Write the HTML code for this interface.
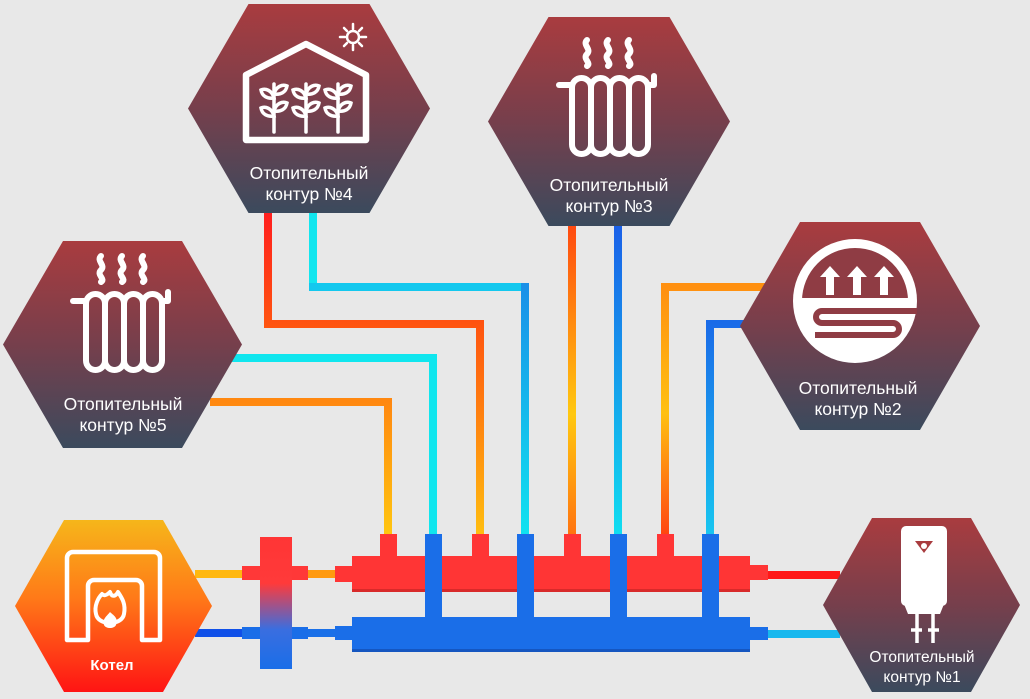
<!DOCTYPE html>
<html><head><meta charset="utf-8"><style>
html,body{margin:0;padding:0;background:#e8e8e8;}
svg{display:block;}
text{font-family:"Liberation Sans",sans-serif;fill:#fff;}
</style></head><body>
<svg width="1030" height="699" viewBox="0 0 1030 699" xmlns="http://www.w3.org/2000/svg">
<defs>
<linearGradient id="hx" x1="0" y1="0" x2="0" y2="1">
<stop offset="0" stop-color="#a93c3f"/><stop offset="0.5" stop-color="#763f4c"/><stop offset="1" stop-color="#3b4a5d"/></linearGradient>
<linearGradient id="kt" x1="0" y1="0" x2="0" y2="1">
<stop offset="0" stop-color="#f6b61a"/><stop offset="0.45" stop-color="#ff7a18"/><stop offset="1" stop-color="#ff1414"/></linearGradient>
<linearGradient id="sep" x1="0" y1="0" x2="0" y2="1">
<stop offset="0" stop-color="#ff3535"/><stop offset="0.35" stop-color="#ff3a3a"/><stop offset="0.7" stop-color="#3a6ee0"/><stop offset="1" stop-color="#1a6ee8"/></linearGradient>
<linearGradient id="g4r" gradientUnits="userSpaceOnUse" x1="0" y1="213" x2="0" y2="540">
<stop offset="0" stop-color="#ff1e1e"/><stop offset="0.35" stop-color="#ff5510"/><stop offset="1" stop-color="#ffc010"/></linearGradient>
<linearGradient id="g4c" gradientUnits="userSpaceOnUse" x1="0" y1="287" x2="0" y2="540">
<stop offset="0" stop-color="#1a90e8"/><stop offset="1" stop-color="#10e4f0"/></linearGradient>
<linearGradient id="g5o" gradientUnits="userSpaceOnUse" x1="0" y1="402" x2="0" y2="540">
<stop offset="0" stop-color="#ff8810"/><stop offset="1" stop-color="#ffc810"/></linearGradient>
<linearGradient id="g3o" gradientUnits="userSpaceOnUse" x1="0" y1="226" x2="0" y2="540">
<stop offset="0" stop-color="#ff4a10"/><stop offset="0.6" stop-color="#ffc810"/><stop offset="1" stop-color="#ff7010"/></linearGradient>
<linearGradient id="g3b" gradientUnits="userSpaceOnUse" x1="0" y1="226" x2="0" y2="540">
<stop offset="0" stop-color="#1a60e8"/><stop offset="1" stop-color="#10e0f0"/></linearGradient>
<linearGradient id="g2o" gradientUnits="userSpaceOnUse" x1="0" y1="287" x2="0" y2="540">
<stop offset="0" stop-color="#ff9010"/><stop offset="0.5" stop-color="#ffc010"/><stop offset="1" stop-color="#ff4010"/></linearGradient>
<linearGradient id="g2b" gradientUnits="userSpaceOnUse" x1="0" y1="324" x2="0" y2="540">
<stop offset="0" stop-color="#1a6be8"/><stop offset="1" stop-color="#18c8f0"/></linearGradient>
<clipPath id="cc"><circle cx="855" cy="301" r="53"/></clipPath>
<g id="rad" fill="none" stroke="#fff" stroke-width="6" stroke-linecap="round" stroke-linejoin="round">
<path d="M2 9 h13"/>
<rect x="15" y="2" width="19" height="76" rx="9.5"/>
<rect x="34" y="2" width="19" height="76" rx="9.5"/>
<rect x="53" y="2" width="19" height="76" rx="9.5"/>
<rect x="72" y="2" width="19" height="76" rx="9.5"/>
<path d="M91 9 h6 v-9"/>
<path d="M30 -36 c-5 5 5 9 0 14 c-5 5 5 9 0 12"/>
<path d="M51 -36 c-5 5 5 9 0 14 c-5 5 5 9 0 12"/>
<path d="M72 -36 c-5 5 5 9 0 14 c-5 5 5 9 0 12"/>
</g>
<g id="plant" fill="none" stroke="#fff" stroke-width="3.5" stroke-linecap="round">
<path d="M0 48 V0"/>
<path d="M0 14 c-2 -8 -9 -10 -13 -8 c1 6 6 9 13 8z"/>
<path d="M0 10 c2 -8 9 -10 13 -8 c-1 6 -6 9 -13 8z"/>
<path d="M0 32 c-2 -8 -9 -10 -13 -8 c1 6 6 9 13 8z"/>
<path d="M0 27 c2 -8 9 -10 13 -8 c-1 6 -6 9 -13 8z"/>
</g>
</defs>

<!-- thin pipes -->
<g fill="none" stroke-width="8" stroke-linejoin="miter">
<polyline points="268,210 268,324 480,324 480,540" stroke="url(#g4r)"/>
<polyline points="313,210 313,287" stroke="#12e6ef"/>
<polyline points="309,287 525,287" stroke="#14c8ee"/>
<polyline points="525,283 525,540" stroke="url(#g4c)"/>
<polyline points="230,358 433,358 433,540" stroke="#10e6ee"/>
<polyline points="210,402 388,402 388,540" stroke="url(#g5o)"/>
<polyline points="572,222 572,540" stroke="url(#g3o)"/>
<polyline points="618,222 618,540" stroke="url(#g3b)"/>
<polyline points="770,287 665,287 665,540" stroke="url(#g2o)"/>
<polyline points="760,324 710,324 710,540" stroke="url(#g2b)"/>
<line x1="195" y1="574" x2="245" y2="574" stroke="#ffb810"/>
<line x1="195" y1="633" x2="245" y2="633" stroke="#1050e8"/>
<line x1="305" y1="574" x2="338" y2="574" stroke="#ff9a10"/>
<line x1="305" y1="633" x2="338" y2="633" stroke="#1a70e8"/>
<line x1="765" y1="575" x2="840" y2="575" stroke="#ff1818"/>
<line x1="765" y1="634" x2="840" y2="634" stroke="#18b8ee"/>
</g>

<!-- separator cross -->
<rect x="242" y="566" width="66" height="14" fill="#ff3838"/>
<rect x="242" y="627" width="66" height="12" fill="#1a6ee8"/>
<rect x="260" y="537" width="32" height="132" fill="url(#sep)"/>

<!-- manifold -->
<rect x="335" y="566" width="18" height="16" fill="#ff3535"/>
<rect x="352" y="556" width="398" height="36" fill="#ff3535"/>
<rect x="352" y="589" width="398" height="3" fill="#d82a2a"/>
<rect x="750" y="565" width="18" height="15" fill="#ff3535"/>
<rect x="335" y="626" width="18" height="14" fill="#1a6ee8"/>
<rect x="352" y="617" width="398" height="35" fill="#1a6ee8"/>
<rect x="352" y="649" width="398" height="3" fill="#1556c0"/>
<rect x="750" y="627" width="18" height="13" fill="#1a6ee8"/>
<g fill="#ff3535">
<rect x="380" y="534" width="17" height="24"/><rect x="472" y="534" width="17" height="24"/>
<rect x="564" y="534" width="17" height="24"/><rect x="657" y="534" width="17" height="24"/>
</g>
<g fill="#1a6ee8">
<rect x="425" y="534" width="17" height="86"/><rect x="517" y="534" width="17" height="86"/>
<rect x="610" y="534" width="17" height="86"/><rect x="702" y="534" width="17" height="86"/>
</g>

<!-- hexagons -->
<polygon points="188,108.5 248.5,4 369.5,4 430,108.5 369.5,213 248.5,213" fill="url(#hx)"/>
<polygon points="488,121.5 548.5,17 669.5,17 730,121.5 669.5,226 548.5,226" fill="url(#hx)"/>
<polygon points="3,344.5 63,241 182,241 242,344.5 182,448 63,448" fill="url(#hx)"/>
<polygon points="740,326 800,222 920,222 980,326 920,430 800,430" fill="url(#hx)"/>
<polygon points="823,605 872,518 971,518 1020,605 971,692 872,692" fill="url(#hx)"/>
<polygon points="15,606 64,520 163,520 212,606 163,692 64,692" fill="url(#kt)"/>

<!-- hex4 greenhouse -->
<path d="M246 140 V75 L306 44 L366 75 V140 Z" fill="none" stroke="#fff" stroke-width="6.5" stroke-linejoin="round"/>
<use href="#plant" x="274" y="84"/>
<use href="#plant" x="306" y="84"/>
<use href="#plant" x="338" y="84"/>
<g stroke="#fff" stroke-width="2.5" fill="none" stroke-linecap="round">
<circle cx="353" cy="37" r="6"/>
<path d="M353 24v5M353 45v5M340 37h5M361 37h5M344 28l3 3M359 43l3 3M344 46l3-3M359 31l3-3"/>
</g>
<text x="309" y="179" font-size="17.5" text-anchor="middle">Отопительный</text>
<text x="309" y="200" font-size="17.5" text-anchor="middle">контур  №4</text>

<!-- hex3 radiator -->
<use href="#rad" x="557" y="76"/>
<text x="609" y="191" font-size="17.5" text-anchor="middle">Отопительный</text>
<text x="609" y="212" font-size="17.5" text-anchor="middle">контур  №3</text>

<!-- hex5 radiator -->
<use href="#rad" x="71" y="292"/>
<text x="123" y="410" font-size="17.5" text-anchor="middle">Отопительный</text>
<text x="123" y="431" font-size="17.5" text-anchor="middle">контур  №5</text>

<!-- hex2 floor heating -->
<circle cx="855" cy="301" r="62" fill="#fff"/>
<g clip-path="url(#cc)">
<rect x="790" y="240" width="130" height="58" fill="#8f3c44"/>
</g>
<g fill="#fff">
<polygon points="830,266 820,277 826,277 826,295 834,295 834,277 840,277"/>
<polygon points="857,266 847,277 853,277 853,295 861,295 861,277 867,277"/>
<polygon points="884,266 874,277 880,277 880,295 888,295 888,277 894,277"/>
</g>
<path d="M917 311 H822 a6 6 0 0 0 0 12 H893 a6 6 0 0 1 0 12 H815" fill="none" stroke="#8f3c44" stroke-width="6"/>
<text x="858" y="394" font-size="17.5" text-anchor="middle">Отопительный</text>
<text x="858" y="415" font-size="17.5" text-anchor="middle">контур  №2</text>

<!-- hex1 water heater -->
<rect x="901" y="526" width="46" height="80" rx="5" fill="#fff"/>
<path d="M904 604 h40 l-4 10 h-32 z" fill="#fff"/>
<polygon points="915,541 933,541 924,553" fill="#a93c3f"/>
<circle cx="924" cy="546" r="3" fill="#fff"/>
<g stroke="#fff" stroke-width="3.5">
<line x1="917" y1="612" x2="917" y2="643"/><line x1="933" y1="612" x2="933" y2="643"/>
<line x1="911" y1="630" x2="922" y2="630"/><line x1="928" y1="630" x2="939" y2="630"/>
</g>
<text x="922" y="662" font-size="15.5" text-anchor="middle">Отопительный</text>
<text x="922" y="682" font-size="15.5" text-anchor="middle">контур  №1</text>

<!-- kotel -->
<path d="M88 640 V586 a6 6 0 0 1 6 -6 H136 a6 6 0 0 1 6 6 V640 H160 V558 a6 6 0 0 0 -6 -6 H73 a6 6 0 0 0 -6 6 V640 Z" fill="none" stroke="#fff" stroke-width="4.5" stroke-linejoin="round"/>
<path d="M110 592 c2 6 6 4 8 0 c4 6 8 12 6 22 c-2 12 -26 12 -28 0 c-2 -8 2 -16 6 -20 c2 2 4 2 8 -2 z" fill="none" stroke="#fff" stroke-width="4" stroke-linejoin="round"/>
<path d="M110 612 c3 3 9 6 6 13 c-2 4 -10 4 -12 0 c-2 -6 3 -9 6 -13z" fill="#fff"/>
<text x="112" y="670" font-size="15" font-weight="bold" text-anchor="middle">Котел</text>
</svg>
</body></html>
